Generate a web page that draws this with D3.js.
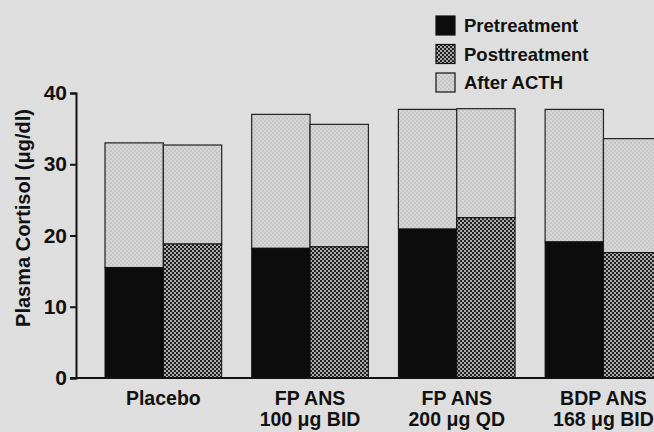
<!DOCTYPE html>
<html><head><meta charset="utf-8">
<script src="https://cdn.jsdelivr.net/npm/d3@7"></script>
<style>
html,body{margin:0;padding:0;background:#dedede;}
svg{display:block;font-family:"Liberation Sans",Arial,Helvetica,sans-serif;font-weight:bold;}
</style></head>
<body>
<svg id="chart" width="654" height="432"></svg>
<script>
const groups = ["Placebo", "FP ANS 100 BID", "FP ANS 200 QD", "BDP ANS 168 BID"];
const groupLabels = [["Placebo"], ["FP ANS", "100 \u03bcg BID"], ["FP ANS", "200 \u03bcg QD"], ["BDP ANS", "168 \u03bcg BID"]];
const pretreatment = [15.5, 18.2, 20.9, 19.1];
const posttreatment = [18.8, 18.4, 22.5, 17.6];
const afterACTHPre = [33.0, 37.0, 37.7, 37.7];
const afterACTHPost = [32.7, 35.6, 37.8, 33.6];
const yTicks = [0, 10, 20, 30, 40];
const legendItems = ["Pretreatment", "Posttreatment", "After ACTH"];

const svg = d3.select("#chart");
const W = 654, H = 432;
svg.append("rect").attr("width", W).attr("height", H).attr("fill", "#dedede");

const defs = svg.append("defs");
const post = defs.append("pattern").attr("id", "post").attr("patternUnits", "userSpaceOnUse")
  .attr("width", 4).attr("height", 4);
post.append("rect").attr("width", 4).attr("height", 4).attr("fill", "#aaaaaa");
post.append("rect").attr("width", 2).attr("height", 2).attr("fill", "#222");
post.append("rect").attr("x", 2).attr("y", 2).attr("width", 2).attr("height", 2).attr("fill", "#222");
const acth = defs.append("pattern").attr("id", "acth").attr("patternUnits", "userSpaceOnUse")
  .attr("width", 4).attr("height", 4);
acth.append("rect").attr("width", 4).attr("height", 4).attr("fill", "#d6d6d6");
acth.append("rect").attr("width", 2).attr("height", 2).attr("fill", "#c6c6c6");
acth.append("rect").attr("x", 2).attr("y", 2).attr("width", 2).attr("height", 2).attr("fill", "#c6c6c6");

const x0 = 76, y0 = 378;
const y = d3.scaleLinear().domain([0, 40]).range([y0, 93]);
const xg = d3.scaleBand().domain(groups).range([105, 661.8]).paddingInner(0.2045).paddingOuter(0);
const xs = d3.scaleBand().domain(["pre", "post"]).range([0, xg.bandwidth()]);

const g = svg.append("g");
groups.forEach((grp, i) => {
  const gx = xg(grp);
  const bars = [
    {k: "pre", base: pretreatment[i], top: afterACTHPre[i], fill: "#0c0c0c"},
    {k: "post", base: posttreatment[i], top: afterACTHPost[i], fill: "url(#post)"}
  ];
  bars.forEach(b => {
    const bx = gx + xs(b.k), bw = xs.bandwidth();
    g.append("rect").attr("x", bx).attr("y", y(b.top)).attr("width", bw)
      .attr("height", y(b.base) - y(b.top)).attr("fill", "url(#acth)")
      .attr("stroke", "#222").attr("stroke-width", 1.2);
    g.append("rect").attr("x", bx).attr("y", y(b.base)).attr("width", bw)
      .attr("height", y0 - y(b.base)).attr("fill", b.fill)
      .attr("stroke", "#111").attr("stroke-width", 1);
  });
});

// y axis
const yAxis = d3.axisLeft(y).tickValues(yTicks).tickSize(6).tickPadding(3);
const ya = svg.append("g").attr("transform", `translate(${x0},0)`).call(yAxis);
ya.select(".domain").attr("stroke", "#111").attr("stroke-width", 2);
ya.selectAll(".tick line").attr("stroke", "#111").attr("stroke-width", 2);
ya.selectAll(".tick text").attr("font-size", 21).attr("font-weight", "bold")
  .attr("fill", "#111").attr("font-family", "Liberation Sans, Arial, sans-serif");

// x axis baseline
svg.append("line").attr("x1", x0 - 6).attr("x2", W).attr("y1", y0).attr("y2", y0)
  .attr("stroke", "#111").attr("stroke-width", 2);

// group labels
groups.forEach((grp, i) => {
  const cx = xg(grp) + xg.bandwidth() / 2;
  const t = svg.append("text").attr("text-anchor", "middle").attr("font-size", 19.5).attr("fill", "#111");
  groupLabels[i].forEach((ln, j) => {
    t.append("tspan").attr("x", cx).attr("y", 405 + j * 21).text(ln);
  });
});

// y title
svg.append("text").attr("transform", "translate(30,218) rotate(-90)")
  .attr("text-anchor", "middle").attr("font-size", 20).attr("fill", "#111")
  .text("Plasma Cortisol (\u03bcg/dl)");

// legend
const legFills = ["#0c0c0c", "url(#post)", "url(#acth)"];
legendItems.forEach((name, i) => {
  const ly = 16 + i * 28.5;
  svg.append("rect").attr("x", 436).attr("y", ly).attr("width", 19).attr("height", 19)
    .attr("fill", legFills[i]).attr("stroke", "#111").attr("stroke-width", 1.2);
  svg.append("text").attr("x", 464).attr("y", ly + 16).attr("font-size", 18.5).attr("fill", "#111").text(name);
});
</script>
</body></html>
